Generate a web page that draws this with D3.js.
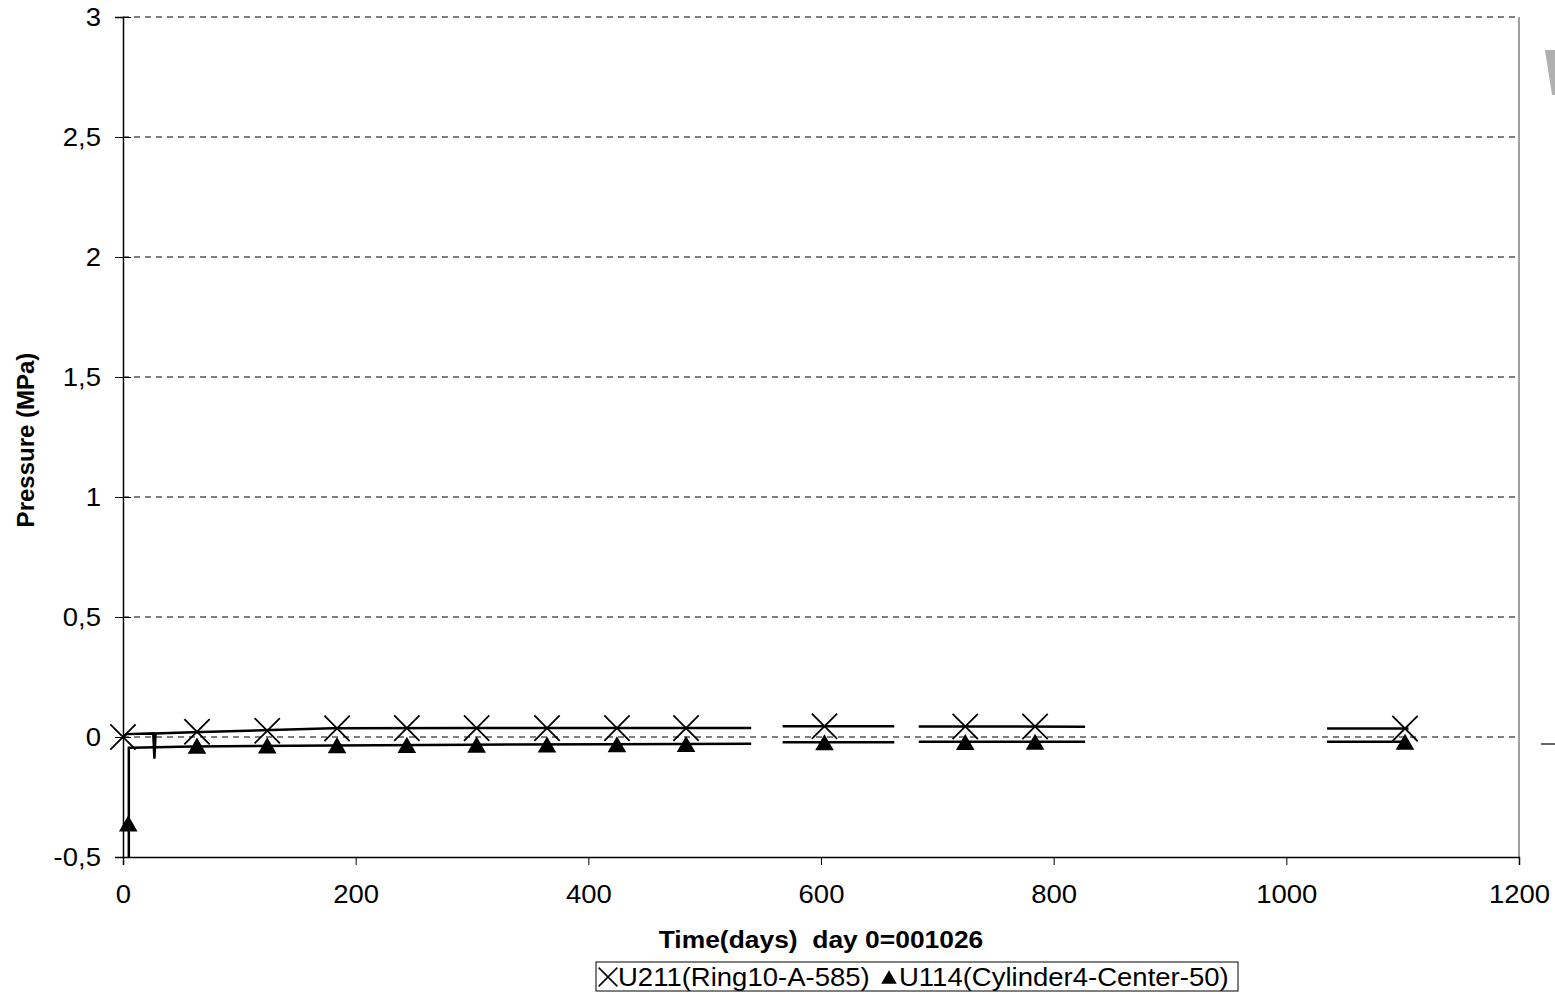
<!DOCTYPE html>
<html>
<head>
<meta charset="utf-8">
<script src="https://cdn.jsdelivr.net/npm/d3@7"></script>
<style>
  body { margin: 0; background: #fff; }
  svg { display: block; font-family: "Liberation Sans", Arial, sans-serif; }
</style>
</head>
<body>
<svg id="chart" width="1555" height="993"></svg>
<script>
// Pressure over time, two gauges (null = gap in logging)
const u211Days     = [0, 3, 26, 27, 28, 60, 120, 180, 300, 420, 540, null, 567, 663, null, 684, 827, null, 1035, 1105];
const u211Pressure = [0, 0.012, 0.015, -0.09, 0.015, 0.02, 0.028, 0.036, 0.037, 0.037, 0.037, null, 0.045, 0.045, null, 0.044, 0.043, null, 0.035, 0.035];

const u114Days     = [5, 5, 7, 60, 180, 300, 420, 540, null, 567, 663, null, 684, 827, null, 1035, 1105];
const u114Pressure = [-0.7, -0.045, -0.045, -0.04, -0.035, -0.032, -0.03, -0.028, null, -0.022, -0.022, null, -0.02, -0.02, null, -0.02, -0.02];

const u211MarkerDays  = [0, 63.6, 124, 184, 244, 304, 364.5, 424.6, 484, 603, 724, 784, 1102];
const u211MarkerValue = [0, 0.022, 0.026, 0.036, 0.037, 0.037, 0.037, 0.037, 0.037, 0.045, 0.044, 0.044, 0.035];
const u114MarkerDays  = [4.5, 63.6, 124, 184, 244, 304, 364.5, 424.6, 484, 603, 724, 784, 1102];
const u114MarkerValue = [-0.36, -0.036, -0.035, -0.034, -0.033, -0.032, -0.031, -0.03, -0.029, -0.022, -0.021, -0.02, -0.02];

const xTicks = [0, 200, 400, 600, 800, 1000, 1200];
const yTicks = [-0.5, 0, 0.5, 1, 1.5, 2, 2.5, 3];
const seriesNames = ['U211(Ring10-A-585)', 'U114(Cylinder4-Center-50)'];

const svg = d3.select('#chart');
const plotLeft = 123, plotRight = 1519, plotTop = 17, plotBottom = 857;
const stretch = 1.1; // the original text is a bit wider than Arial

const x = d3.scaleLinear().domain([0, 1200]).range([plotLeft, plotRight]);
const y = d3.scaleLinear().domain([-0.5, 3]).range([plotBottom, plotTop]);

// triangle centred on its bounding box, like the spreadsheet markers
const boxTriangle = {
  draw(context, size) {
    const s = Math.sqrt(size * 4 / Math.sqrt(3));
    const h = s * Math.sqrt(3) / 2;
    context.moveTo(0, -h / 2);
    context.lineTo(s / 2, h / 2);
    context.lineTo(-s / 2, h / 2);
    context.closePath();
  }
};

svg.append('rect').attr('width', 1555).attr('height', 993).attr('fill', '#fff');

// gridlines (dashed)
svg.append('g')
  .selectAll('line')
  .data(yTicks.filter(d => d > -0.5))
  .enter().append('line')
  .attr('x1', plotLeft).attr('x2', plotRight)
  .attr('y1', d => y(d)).attr('y2', d => y(d))
  .attr('stroke', '#000')
  .attr('stroke-width', 1)
  .attr('stroke-dasharray', '6,5');

// right border
svg.append('line')
  .attr('x1', plotRight).attr('x2', plotRight).attr('y1', plotTop).attr('y2', plotBottom)
  .attr('stroke', '#808080').attr('stroke-width', 1.5);

// axes
const fmt = d => String(d).replace('.', ',');
const yAxis = svg.append('g')
  .attr('transform', `translate(${plotLeft},0)`)
  .call(d3.axisLeft(y).tickValues(yTicks).tickFormat(fmt).tickSize(8).tickPadding(14));
const xAxis = svg.append('g')
  .attr('transform', `translate(0,${plotBottom})`)
  .call(d3.axisBottom(x).tickValues(xTicks).tickFormat(d => d).tickSize(8).tickPadding(20));

[yAxis, xAxis].forEach(a => {
  a.select('.domain').attr('stroke', '#000').attr('stroke-width', 1.5);
  a.selectAll('.tick line').attr('stroke', '#000').attr('stroke-width', 1);
  a.selectAll('.tick text').attr('fill', '#000').style('font-size', '25px')
    .style('font-family', '"Liberation Sans", Arial, sans-serif')
    .attr('class', 'wide');
});
yAxis.selectAll('.tick line').attr('x2', 8).attr('x1', -8);

// clip for data lines
svg.append('clipPath').attr('id', 'plotClip')
  .append('rect').attr('x', plotLeft).attr('y', plotTop)
  .attr('width', plotRight - plotLeft).attr('height', plotBottom - plotTop);

const plot = svg.append('g').attr('clip-path', 'url(#plotClip)');

const line = d3.line()
  .defined(d => d[0] !== null && d[1] !== null)
  .x(d => x(d[0]))
  .y(d => y(d[1]));

plot.append('path')
  .datum(u114Days.map((d, i) => [d, u114Pressure[i]]))
  .attr('d', line)
  .attr('fill', 'none').attr('stroke', '#000').attr('stroke-width', 2.5);

plot.append('path')
  .datum(u211Days.map((d, i) => [d, u211Pressure[i]]))
  .attr('d', line)
  .attr('fill', 'none').attr('stroke', '#000').attr('stroke-width', 2.5);

// markers
svg.selectAll('.m211')
  .data(u211MarkerDays.map((d, i) => [d, u211MarkerValue[i]]))
  .enter().append('path')
  .attr('class', 'm211')
  .attr('transform', d => `translate(${x(d[0])},${y(d[1])})`)
  .attr('d', d3.symbol(d3.symbolX, 420))
  .attr('fill', 'none').attr('stroke', '#000').attr('stroke-width', 1.8);

svg.selectAll('.m114')
  .data(u114MarkerDays.map((d, i) => [d, u114MarkerValue[i]]))
  .enter().append('path')
  .attr('class', 'm114')
  .attr('transform', d => `translate(${x(d[0])},${y(d[1])})`)
  .attr('d', d3.symbol(boxTriangle, 150))
  .attr('fill', '#000');

// axis titles
svg.append('text')
  .attr('transform', `translate(34, 440) rotate(-90)`)
  .attr('text-anchor', 'middle')
  .style('font-size', '24px').style('font-weight', 'bold')
  .text('Pressure (MPa)');

svg.append('text')
  .attr('class', 'wide')
  .attr('x', 821).attr('y', 948)
  .attr('text-anchor', 'middle')
  .style('font-size', '24px').style('font-weight', 'bold')
  .style('white-space', 'pre')
  .text('Time(days)  day 0=001026');

// legend
const legend = svg.append('g').attr('transform', 'translate(596,962)');
legend.append('rect').attr('width', 642).attr('height', 29)
  .attr('fill', '#fff').attr('stroke', '#000').attr('stroke-width', 1);

legend.append('path').attr('transform', 'translate(12,15)')
  .attr('d', d3.symbol(d3.symbolX, 230))
  .attr('fill', 'none').attr('stroke', '#000').attr('stroke-width', 1.6);
legend.append('text').attr('class', 'wide').attr('x', 22).attr('y', 24)
  .style('font-size', '25px').text(seriesNames[0]);

legend.append('path').attr('transform', 'translate(293,15)')
  .attr('d', d3.symbol(boxTriangle, 105))
  .attr('fill', '#000');
legend.append('text').attr('class', 'wide').attr('x', 303).attr('y', 24)
  .style('font-size', '25px').text(seriesNames[1]);

// widen horizontal texts a little
svg.selectAll('text.wide').each(function() {
  const len = this.getComputedTextLength();
  d3.select(this).attr('textLength', len * stretch).attr('lengthAdjust', 'spacingAndGlyphs');
});

// stray artefacts at right edge of the original
svg.append('path').attr('d', 'M1545,50L1555,50L1555,95L1552,95Z').attr('fill', '#b0b0b0');
svg.append('line').attr('x1', 1541).attr('x2', 1555).attr('y1', 744).attr('y2', 744)
  .attr('stroke', '#000').attr('stroke-width', 1.2);
</script>
</body>
</html>
